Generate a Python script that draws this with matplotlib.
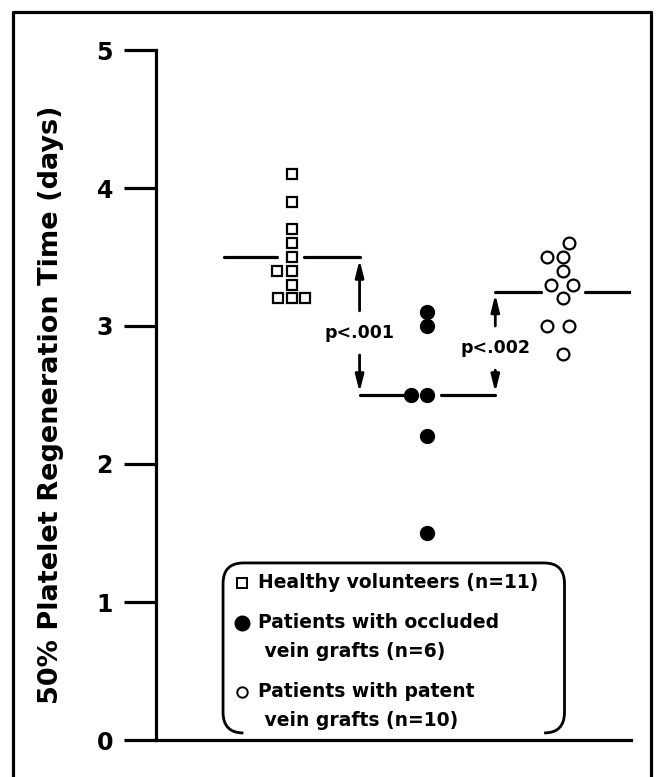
import matplotlib
matplotlib.use("Agg")
import matplotlib.pyplot as plt
from matplotlib.path import Path
from matplotlib.patches import PathPatch
from matplotlib.lines import Line2D

# ---------------- data ----------------
groups = ["Healthy volunteers (n=11)",
          "Patients with occluded\n vein grafts (n=6)",
          "Patients with patent\n vein grafts (n=10)"]
group_pos = [1.0, 2.0, 3.0]

healthy = [4.1, 3.9, 3.7, 3.6, 3.5, 3.4, 3.4, 3.3, 3.2, 3.2, 3.2]
occluded = [3.1, 3.0, 2.5, 2.5, 2.2, 1.5]
patent = [3.6, 3.5, 3.5, 3.4, 3.3, 3.3, 3.2, 3.0, 3.0, 2.8]

means = [3.5, 2.5, 3.25]
p_labels = ["p<.001", "p<.002"]

yticks = [0, 1, 2, 3, 4, 5]
ylabel = "50% Platelet Regeneration Time (days)"

# lateral spread of coincident points (style, in x data units)
healthy_dx = [0, 0, 0, 0, 0, -0.11, 0, 0, -0.10, 0, 0.10]
occluded_dx = [0, 0, -0.12, 0, 0, 0]
patent_dx = [0.04, -0.12, 0, 0, -0.09, 0.07, 0, -0.12, 0.04, 0]

# ---------------- figure ----------------
plt.rcParams["font.family"] = ["DejaVu Sans"]
plt.rcParams["font.weight"] = "bold"

fig = plt.figure(figsize=(6.58, 7.77), dpi=100)
ax = fig.add_axes([156/658, 1 - 740/777, (631-156)/658, (740-50)/777])
ax.set_xlim(0, 3.5)
ax.set_ylim(0, 5)

lw = 2.3
for s in ["top", "right"]:
    ax.spines[s].set_visible(False)
for s in ["left", "bottom"]:
    ax.spines[s].set_linewidth(lw)
ax.set_xticks([])
ax.set_yticks(yticks)
ax.set_yticklabels([str(t) for t in yticks], fontsize=17, fontweight="bold")
ax.tick_params(axis="y", length=23, width=lw, pad=8)
ax.set_ylabel(ylabel, fontsize=19.5, fontweight="bold", labelpad=0)
ax.yaxis.set_label_coords(-(156-64)/475, (740-405)/690)

# mean lines (broken around markers)
gaps = [(-0.11, 0.09), (-0.18, 0.10), (-0.16, 0.16)]
for x, m, (g0, g1) in zip(group_pos, means, gaps):
    ax.plot([x - 0.5, x + g0], [m, m], color="black", lw=lw, solid_capstyle="round", zorder=2)
    ax.plot([x + g1, x + 0.5], [m, m], color="black", lw=lw, solid_capstyle="round", zorder=2)

# points
ax.plot([group_pos[0] + d for d in healthy_dx], healthy, "s", ms=7.5, mfc="white",
        mec="black", mew=1.6, ls="none", zorder=3)
ax.plot([group_pos[1] + d for d in occluded_dx], occluded, "o", ms=10, mfc="black",
        mec="black", ls="none", zorder=3)
ax.plot([group_pos[2] + d for d in patent_dx], patent, "o", ms=8.5, mfc="white",
        mec="black", mew=1.6, ls="none", zorder=3)

# significance arrows
arrow_kw = dict(arrowstyle="-|>,head_length=1.0,head_width=0.25", lw=2.0, color="black",
                shrinkA=0, shrinkB=0)
pairs = [(0, 1), (1, 2)]
text_y = [2.95, 2.84]
for (a, b), lab, ty in zip(pairs, p_labels, text_y):
    xa = (group_pos[a] + group_pos[b]) / 2
    hi, lo = max(means[a], means[b]), min(means[a], means[b])
    ax.annotate("", xy=(xa, hi - 0.02), xytext=(xa, ty + 0.16), arrowprops=arrow_kw)
    ax.annotate("", xy=(xa, lo + 0.02), xytext=(xa, ty - 0.16), arrowprops=arrow_kw)
    ax.text(xa, ty, lab, ha="center", va="center", fontsize=12.5, fontweight="bold")

# legend box (rounded, open at bottom)
L, R, T, B = 0.494, 3.010, 1.283, 0.051
rx, ry = 0.15, 0.15
verts = [(L + rx, B), (L, B), (L, B + ry),
         (L, T - ry),
         (L, T), (L + rx, T),
         (R - rx, T),
         (R, T), (R, T - ry),
         (R, B + ry),
         (R, B), (R - rx, B)]
codes = [Path.MOVETO, Path.CURVE3, Path.CURVE3,
         Path.LINETO,
         Path.CURVE3, Path.CURVE3,
         Path.LINETO,
         Path.CURVE3, Path.CURVE3,
         Path.LINETO,
         Path.CURVE3, Path.CURVE3]
ax.add_patch(PathPatch(Path(verts, codes), fill=False, lw=2.0, ec="black", zorder=1))

leg_mx, leg_tx = 0.634, 0.752
leg_y = [1.138, 0.848, 0.348]
leg_dy = 0.21
leg_style = [dict(marker="s", ms=6.5, mfc="white", mec="black", mew=1.4),
             dict(marker="o", ms=10.5, mfc="black", mec="black"),
             dict(marker="o", ms=7.5, mfc="white", mec="black", mew=1.4)]
for lab, y, st in zip(groups, leg_y, leg_style):
    ax.plot([leg_mx], [y], ls="none", **st)
    for i, ln in enumerate(lab.split("\n")):
        ax.text(leg_tx, y - i * leg_dy, ln, ha="left", va="center",
                fontsize=13.5, fontweight="bold")

# outer frame (open at bottom)
fx0, fx1, fy1 = 13/658, 651/658, 1 - 12/777
fig.add_artist(Line2D([fx0, fx0, fx1, fx1], [0, fy1, fy1, 0], lw=2.3, color="black",
                      transform=fig.transFigure))

fig.savefig("out.png", dpi=100)
